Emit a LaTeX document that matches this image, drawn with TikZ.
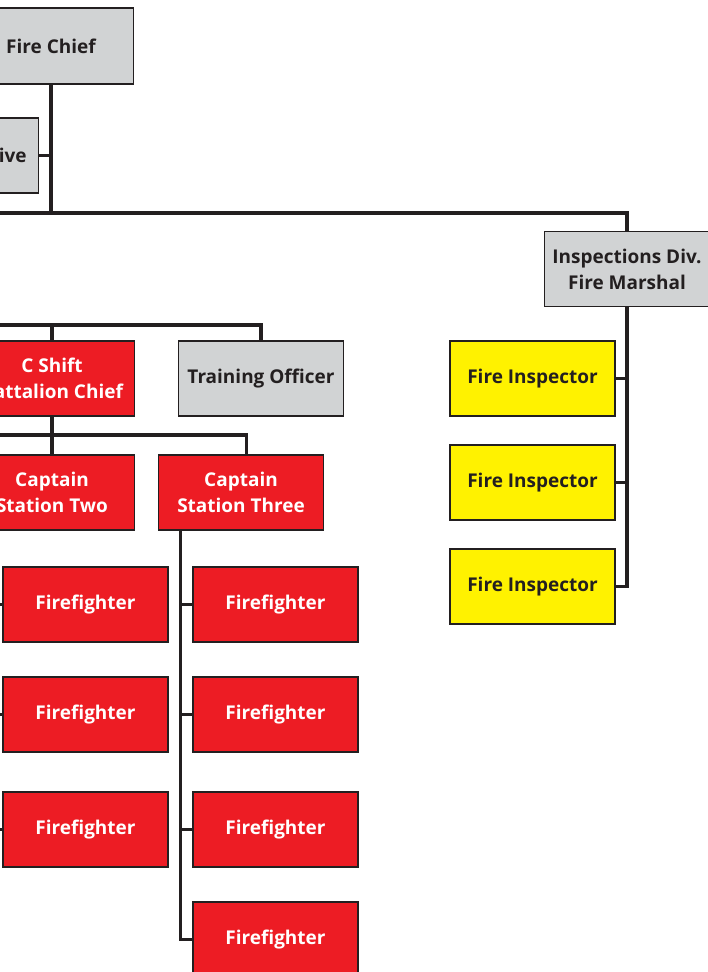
\documentclass[tikz,border=0pt]{standalone}
\usepackage{fontspec}
\setmainfont{Open Sans}
\usetikzlibrary{calc}

\definecolor{firered}{HTML}{ED1C24}
\definecolor{boxgray}{HTML}{D1D3D4}
\definecolor{inspyellow}{HTML}{FFF200}
\definecolor{linedark}{HTML}{231F20}

\tikzset{
  post/.style={draw=linedark, line width=1.2pt, minimum width=4.125cm, minimum height=1.875cm,
    inner sep=0pt, align=center, font=\fontsize{13.5}{18.5}\selectfont\bfseries},
  staff/.style={post, fill=boxgray, text=linedark},
  crew/.style={post, fill=firered, text=white},
  inspector/.style={post, fill=inspyellow, text=linedark},
  wire/.style={draw=linedark, line width=2.6pt}
}

\begin{document}
\begin{tikzpicture}[x=0.025cm, y=-0.025cm]
    \useasboundingbox (0,0) rectangle (708,972);
    \clip (0,0) rectangle (708,972);
    \fill[white] (0,0) rectangle (708,972);

    % top of the chart
    \node (chief) at (51,46) [staff, minimum height=1.9cm] {Fire Chief};
    \node (admin) at (-44,155.5) [staff] {Administrative};
    \node (marshal) at (627,269) [staff] {Inspections Div.\\Fire Marshal};

    % shift and stations
    \node (cshift) at (52,378.5) [crew] {C Shift\\Battalion Chief};
    \node (training) at (261,378.5) [staff] {Training Officer};
    \node (capt2) at (52,492.5) [crew] {Captain\\Station Two};
    \node (capt3) at (241,492.5) [crew] {Captain\\Station Three};

    % inspectors
    \node (insp1) at (532.5,378.5) [inspector] {Fire Inspector};
    \node (insp2) at (532.5,482.5) [inspector] {Fire Inspector};
    \node (insp3) at (532.5,586.5) [inspector] {Fire Inspector};

    % firefighters
    \node (ff21) at (85.5,604.5) [crew] {Firefighter};
    \node (ff22) at (85.5,714.5) [crew] {Firefighter};
    \node (ff23) at (85.5,829.5) [crew] {Firefighter};
    \node (ff31) at (275.5,604.5) [crew] {Firefighter};
    \node (ff32) at (275.5,714.5) [crew] {Firefighter};
    \node (ff33) at (275.5,829.5) [crew] {Firefighter};
    \node (ff34) at (275.5,939.5) [crew] {Firefighter};

    \coordinate (busA) at (-80,213);
    \coordinate (busB) at (-80,325);
    \coordinate (busC) at (-80,435);

    \draw[wire] (chief.south) -- (chief.south |- busA);
    \draw[wire] (admin.east) -- (admin.east -| chief.south);
    \draw[wire] (busA) -| (marshal.north);

    \draw[wire] (busB) -| (training.north);
    \draw[wire] (cshift.north) -- (cshift.north |- busB);
    \draw[wire] (cshift.south) -- (cshift.south |- busC);
    \draw[wire] (busC) -| ([xshift=0.14cm]capt3.north);
    \draw[wire] (capt2.north) -- (capt2.north |- busC);

    \draw[wire] (marshal.south) |- (insp3.east);
    \draw[wire] (insp1.east) -- (insp1.east -| marshal.south);
    \draw[wire] (insp2.east) -- (insp2.east -| marshal.south);

    \draw[wire] ($(capt2.south west)+(21,0)$) |- (ff23.west);
    \draw[wire] (ff21.west) -- ++(-13,0);
    \draw[wire] (ff22.west) -- ++(-13,0);

    \draw[wire] ($(capt3.south west)+(23,0)$) |- (ff34.west);
    \draw[wire] (ff31.west) -- ++(-12,0);
    \draw[wire] (ff32.west) -- ++(-12,0);
    \draw[wire] (ff33.west) -- ++(-12,0);
  \end{tikzpicture}
\end{document}
